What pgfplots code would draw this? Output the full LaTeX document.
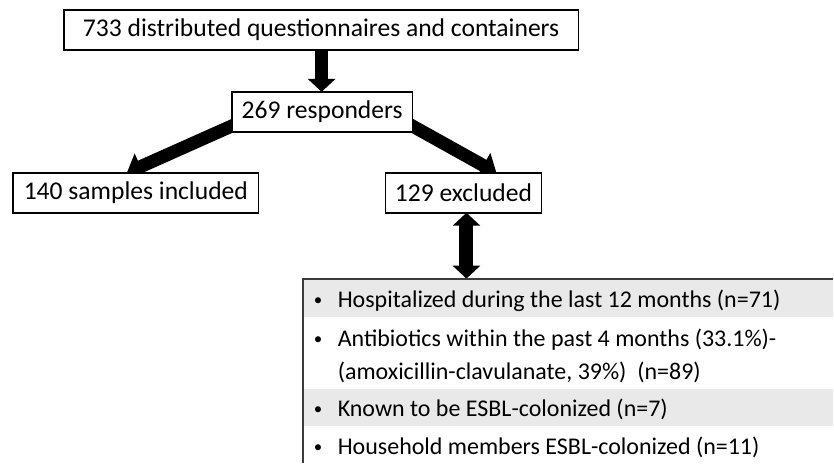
\documentclass[border=0pt]{standalone}
\usepackage{fontspec}
\setmainfont{Carlito}
\usepackage{pgfplots}
\pgfplotsset{compat=1.18}
\usetikzlibrary{arrows.meta}
\definecolor{rowgray}{RGB}{233,233,233}
\definecolor{boxline}{RGB}{60,60,60}
\begin{document}
\begin{tikzpicture}
\begin{axis}[width=834bp,height=464bp,scale only axis,
  xmin=0,xmax=834,ymin=0,ymax=464,hide axis,clip=false]
% background to fix the page size
\fill[white] (axis cs:0,0) rectangle (axis cs:834,464);
% arrows (drawn first, boxes cover their starts)
\draw[line width=13bp,-{Triangle[width=27bp,length=13bp]}]
  (axis cs:322,414) -- (axis cs:322,372);
\draw[line width=13bp,-{Triangle[width=28bp,length=15bp]}]
  (axis cs:257,349) -- (axis cs:127,291);
\draw[line width=13bp,-{Triangle[width=28bp,length=15bp]}]
  (axis cs:392,349.5) -- (axis cs:497,291);
\draw[line width=14bp,{Triangle[width=27bp,length=13bp]}-{Triangle[width=27bp,length=13bp]}]
  (axis cs:467,251) -- (axis cs:467,185);
% top boxes
\tikzset{fbox/.style={draw=black,line width=1.6bp,fill=white,inner sep=0pt,
  font=\fontsize{25.6bp}{30bp}\selectfont,minimum height=40bp}}
\node[fbox,minimum width=515bp] at (axis cs:321.5,434) {733 distributed questionnaires and containers};
\node[fbox,minimum width=181bp] at (axis cs:322.5,352) {269 responders};
\node[fbox,minimum width=246bp] at (axis cs:136,271) {140 samples included};
\node[fbox,minimum width=156bp] at (axis cs:464,271) {129 excluded};
% exclusion list box
\fill[white] (axis cs:303,0) rectangle (axis cs:834,185);
\fill[rowgray] (axis cs:303,147) rectangle (axis cs:834,185);
\fill[rowgray] (axis cs:303,37) rectangle (axis cs:834,75);
\draw[boxline,line width=2bp] (axis cs:303,0) -- (axis cs:303,185) -- (axis cs:834,185);
\tikzset{ltext/.style={anchor=base west,inner sep=0pt,font=\fontsize{24bp}{28bp}\selectfont},
  bul/.style={anchor=base west,inner sep=0pt,font=\fontsize{17bp}{20bp}\selectfont}}
\node[bul] at (axis cs:314,158) {•};
\node[ltext] at (axis cs:338,156) {Hospitalized during the last 12 months (n=71)};
\node[bul] at (axis cs:314,119) {•};
\node[ltext] at (axis cs:338,117) {Antibiotics within the past 4 months (33.1\%)-};
\node[ltext] at (axis cs:338,84) {(amoxicillin-clavulanate, 39\%)\ \ (n=89)};
\node[bul] at (axis cs:314,49) {•};
\node[ltext] at (axis cs:338,47) {Known to be ESBL-colonized (n=7)};
\node[bul] at (axis cs:314,11) {•};
\node[ltext] at (axis cs:338,9) {Household members ESBL-colonized (n=11)};
\end{axis}
\end{tikzpicture}
\end{document}
